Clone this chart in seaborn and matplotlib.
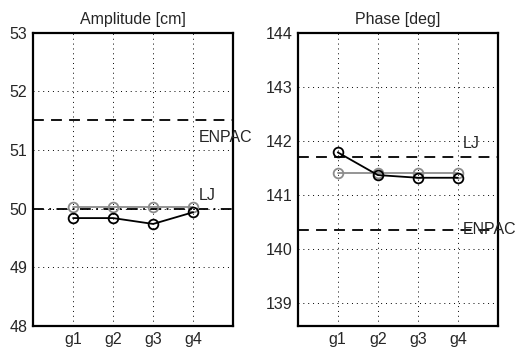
import matplotlib
matplotlib.use("Agg")
import matplotlib.pyplot as plt
import seaborn as sns
import pandas as pd

# stations
stations = ["g1", "g2", "g3", "g4"]
xpos = [1, 2, 3, 4]

# Amplitude [cm]
amp_black = [49.84, 49.84, 49.74, 49.94]
amp_gray = [50.03, 50.03, 50.03, 50.03]
amp_lj = 50.0
amp_enpac = 51.51

# Phase [deg]
pha_black = [141.79, 141.37, 141.32, 141.32]
pha_gray = [141.40, 141.40, 141.40, 141.40]
pha_lj = 141.70
pha_enpac = 140.36

sns.set_style("white")
plt.rcParams["font.family"] = ["Liberation Sans", "DejaVu Sans"]
plt.rcParams["font.size"] = 11.5

fig = plt.figure(figsize=(5.2, 3.49), dpi=100)
ax1 = fig.add_axes([0.0635, 0.066, 0.385, 0.84])
ax2 = fig.add_axes([0.5725, 0.066, 0.385, 0.84])


def panel(ax, black, gray, lj, enpac, ylim, yticks, title, lj_style, lj_txt, enpac_txt):
    df = pd.DataFrame({"x": xpos * 2, "v": gray + black,
                       "s": ["gray"] * 4 + ["black"] * 4})
    sns.lineplot(data=df, x="x", y="v", hue="s", palette={"gray": "#8c8c8c", "black": "black"},
                 marker="o", markersize=7, markerfacecolor="none", markeredgewidth=1.3,
                 linewidth=1.3, legend=False, ax=ax)
    for line in ax.lines:
        line.set_markeredgecolor(line.get_color())
        line.set_markerfacecolor("none")
    ax.axhline(lj, color="black", linestyle=lj_style, linewidth=1.3, dashes=(6, 4) if lj_style == "--" else (6, 3, 1, 3), zorder=1)
    ax.axhline(enpac, color="black", linestyle="--", linewidth=1.3, dashes=(6, 4), zorder=1)
    ax.text(4.13, lj_txt, "LJ", ha="left", va="center", fontsize=11.5, clip_on=False)
    ax.text(4.13, enpac_txt, "ENPAC", ha="left", va="center", fontsize=11.5, clip_on=False)
    ax.set_xlim(0, 5)
    ax.set_ylim(*ylim)
    ax.set_xticks(xpos)
    ax.set_xticklabels(stations)
    ax.set_yticks(yticks)
    ax.grid(True, color="black", linestyle=(0, (1, 4)), linewidth=0.7)
    ax.tick_params(length=0, pad=4, labelsize=11.5)
    ax.set_xlabel("")
    ax.set_ylabel("")
    ax.set_title(title, fontsize=11.5, pad=6)
    for sp in ax.spines.values():
        sp.set_linewidth(1.6)
        sp.set_color("black")


panel(ax1, amp_black, amp_gray, amp_lj, amp_enpac, (48, 53), [48, 49, 50, 51, 52, 53],
      "Amplitude [cm]", "-.", 50.23, 51.22)
panel(ax2, pha_black, pha_gray, pha_lj, pha_enpac, (138.58, 144), [139, 140, 141, 142, 143, 144],
      "Phase [deg]", "--", 141.95, pha_enpac)

fig.savefig("out.png", dpi=100)
